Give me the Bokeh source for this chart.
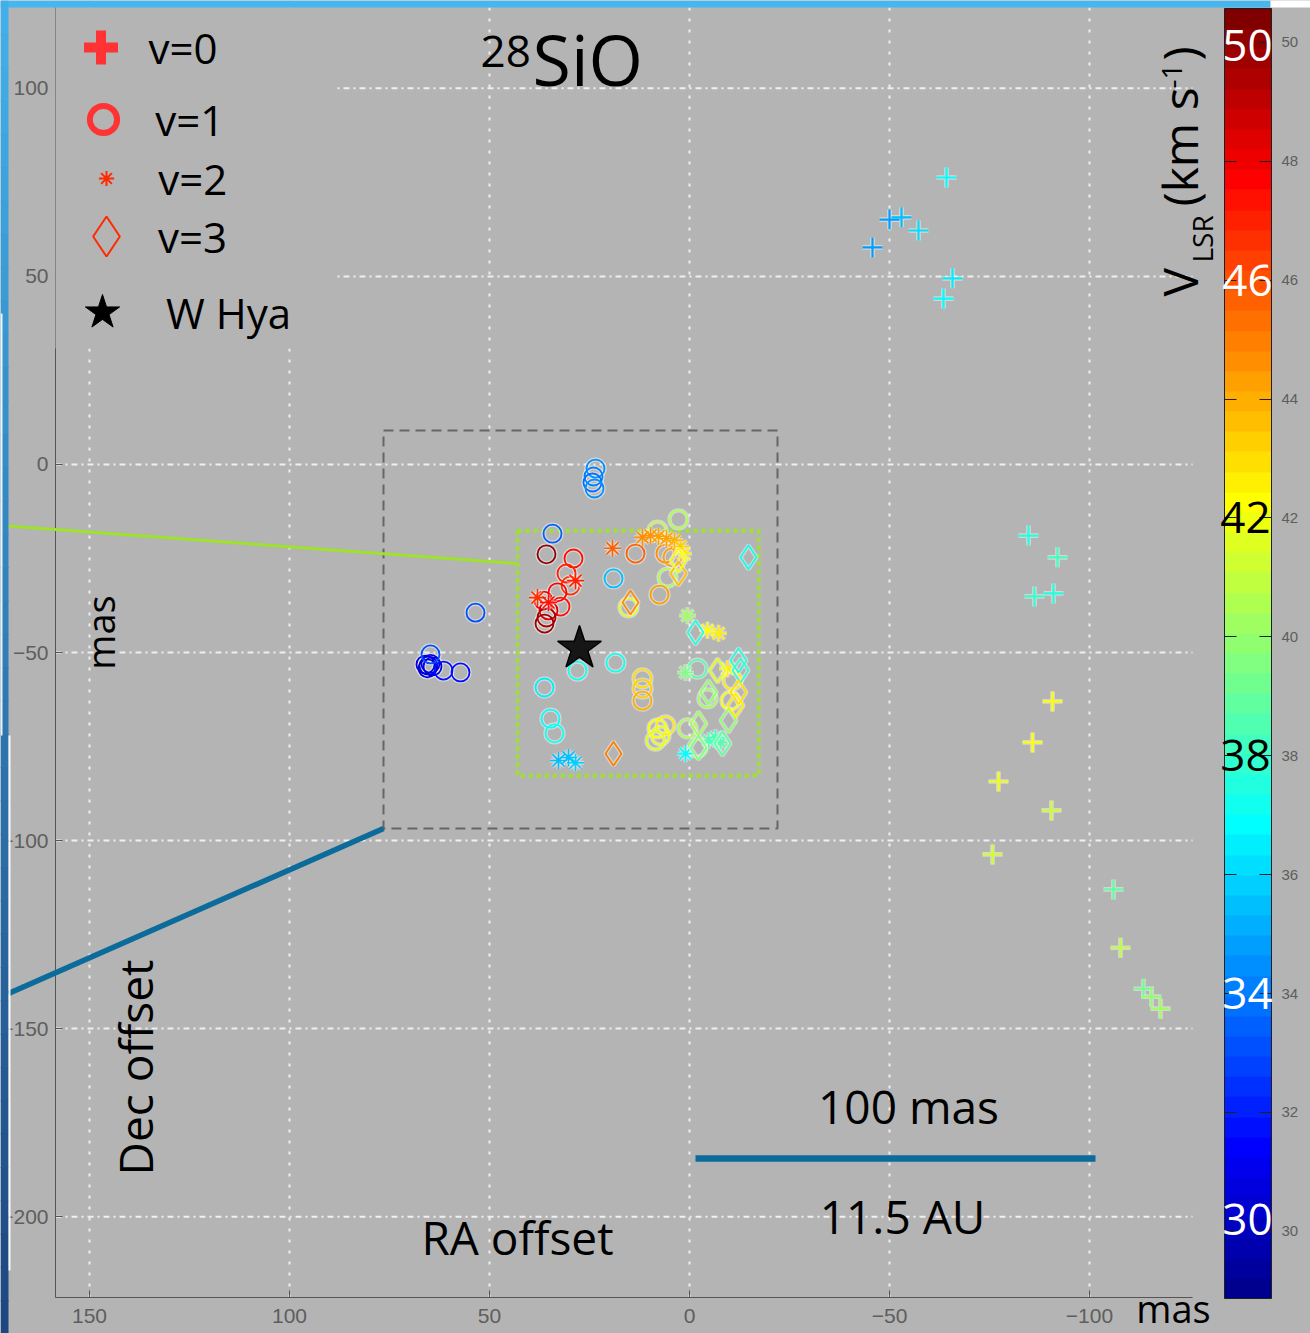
import numpy as np
from bokeh.plotting import figure
from bokeh.models import (Range1d, FixedTicker, LinearColorMapper, ColorBar, Label,
                          BoxAnnotation, Legend, LegendItem, Arrow, ColumnDataSource)
from bokeh.embed import file_html
from bokeh.resources import INLINE

# ---------------------------------------------------------------------------
# 28SiO maser spots around W Hya: RA offset (mas), Dec offset (mas), V_LSR (km/s)
# ---------------------------------------------------------------------------
v0_ra = [-64.25, -50.0, -53.0, -57.25, -45.75, -65.75, -63.5, -84.75, -92.0, -86.25,
         -91.0, -90.75, -85.75, -77.25, -90.5, -75.75, -106.0, -107.75, -113.5, -115.5, -117.75]
v0_dec = [76.3, 65.1, 65.7, 62.2, 57.7, 49.5, 44.1, -18.9, -24.7, -35.1,
          -34.3, -63.0, -73.9, -84.3, -92.0, -103.7, -113.0, -128.5, -139.4, -141.5, -144.7]
v0_vel = [37.0, 34.7, 35.5, 36.0, 34.7, 36.6, 37.0, 37.4, 38.3, 37.8,
          37.5, 42.4, 42.2, 41.8, 41.2, 41.4, 39.0, 40.8, 39.3, 39.8, 40.3]

v1_ra = [23.5, 24.0, 24.25, 23.75, 34.25, 35.75, 29.0, 30.75, 29.75, 33.0,
         32.25, 36.5, 35.25, 35.75, 36.25, 13.5, 19.0, 8.0, 2.75, 6.0,
         4.25, 5.5, 7.5, 15.25, 53.5, 65.25, 66.0, 64.25, 65.5, 64.75,
         64.75, 61.5, 57.25, 28.0, 18.5, 36.25, 34.75, 33.75, 11.75, 11.75,
         11.75, 8.0, 6.0, 7.25, 8.5, 0.5, -2.0, -10.75, -4.5, -10.25, -2.0]
v1_dec = [-1.1, -3.2, -4.8, -6.4, -18.4, -23.9, -25.0, -29.0, -32.2, -34.0,
          -37.8, -36.2, -38.8, -40.7, -42.3, -23.7, -30.3, -17.6, -14.6, -23.7,
          -24.7, -30.1, -34.6, -38.0, -39.4, -53.5, -53.2, -53.7, -54.2, -53.0,
          -50.5, -54.8, -55.3, -54.8, -52.7, -59.3, -67.6, -71.5, -56.9, -59.6,
          -62.8, -70.2, -69.4, -72.1, -73.4, -70.2, -54.3, -57.4, -62.2, -62.8, -75.3]
v1_vel = [34.6, 34.2, 33.9, 34.4, 33.4, 50.2, 47.4, 47.0, 46.8, 47.6,
          47.3, 47.9, 48.5, 49.3, 49.6, 45.6, 35.6, 41.0, 40.6, 44.8,
          44.2, 40.7, 44.2, 41.6, 33.2, 30.6, 30.9, 31.2, 30.4, 30.8,
          33.0, 31.8, 31.6, 37.2, 37.3, 36.4, 37.0, 37.3, 42.8, 43.3,
          43.8, 42.4, 42.6, 41.8, 41.5, 40.4, 38.6, 42.5, 40.3, 42.3, 39.8]

v2_ra = [38.0, 35.25, 28.5, 19.25, 11.75, 9.75, 7.75, 5.75, 3.75, 2.25,
         1.5, 0.5, -4.5, -7.25, 1.0, -9.5, -4.75, -6.5, -7.75, 1.0,
         32.75, 30.25, 28.5]
v2_dec = [-35.4, -36.7, -30.9, -22.3, -19.4, -18.9, -19.1, -19.7, -20.2, -21.8,
          -23.7, -40.2, -44.1, -44.9, -55.3, -54.3, -73.4, -72.6, -73.9, -76.9,
          -78.7, -77.9, -79.3]
v2_vel = [46.8, 47.5, 47.0, 45.8, 44.8, 44.6, 44.4, 44.2, 43.8, 43.2,
          42.6, 40.2, 42.3, 42.6, 39.6, 42.6, 38.4, 38.2, 38.5, 37.0,
          35.6, 35.4, 35.8]

v3_ra = [-14.75, 2.75, 2.75, 14.75, -1.5, 19.0, -7.0, -12.25, -12.75, -12.25,
         -4.75, -9.75, -2.25, -2.25, -8.25, -11.5]
v3_dec = [-24.7, -29.0, -25.5, -36.7, -44.7, -76.9, -54.8, -52.1, -54.8, -60.6,
          -60.6, -68.1, -68.9, -75.3, -74.2, -64.1]
v3_vel = [37.2, 43.5, 42.0, 44.8, 37.6, 45.0, 41.5, 37.5, 37.9, 42.8,
          40.0, 39.8, 40.1, 39.7, 39.0, 42.5]

star_ra = [27.5]
star_dec = [-48.9]

ra_ticks = [150, 100, 50, 0, -50, -100]
dec_ticks = [100, 50, 0, -50, -100, -150, -200]
vel_ticks = [30, 32, 34, 36, 38, 40, 42, 44, 46, 48, 50]
vel_big = [50, 46, 42, 38, 34, 30]
vel_min, vel_max = 28.87, 50.57

# zoom boxes (RA left, RA right, Dec bottom, Dec top) and the scale bar
outer_box = [76.5, -22.0, -96.8, 9.0]
inner_box = [43.0, -17.3, -82.7, -17.6]
scale_mas = 100
scale_au = 11.5

# ---------------------------------------------------------------------------
# page geometry: the plotting region spans RA 158.5..-125.75, Dec -221.5..121.5,
# drawn in the pixel box (55, 7)-(1192, 1297) of a 1310 x 1333 canvas
# ---------------------------------------------------------------------------
GRAY = "#b4b4b4"
W, H = 1310, 1333
RA_L, RA_R, DEC_B, DEC_T = 158.5, -125.75, -221.5, 121.5
BX0, BY0, BX1, BY1 = 55, 7, 1192, 1297
kx = (RA_R - RA_L) / (BX1 - BX0)
ky = (DEC_T - DEC_B) / (BY1 - BY0)
X_L, X_R = RA_L - BX0 * kx, RA_R + (W - BX1) * kx
Y_T, Y_B = DEC_T + BY0 * ky, DEC_B - (H - BY1) * ky


def px_x(px):
    """page pixel column -> RA offset"""
    return X_L + px * kx


def px_y(py):
    """page pixel row -> Dec offset"""
    return Y_T - py * ky


def jet(m=64):
    n = int(np.ceil(m / 4))
    u = np.concatenate([np.arange(1, n + 1) / n, np.ones(n - 1), np.arange(n, 0, -1) / n])
    g = int(np.ceil(n / 2)) - (1 if m % 4 == 1 else 0) + np.arange(1, len(u) + 1)
    rgb = np.zeros((m, 3))
    for ch, idx in ((0, g + n), (1, g), (2, g - n)):
        ok = (idx >= 1) & (idx <= m)
        rgb[idx[ok] - 1, ch] = u[ok]
    return ["#%02x%02x%02x" % tuple(int(round(c * 255)) for c in row) for row in rgb]


p = figure(width=W, height=H, x_range=Range1d(X_L, X_R), y_range=Range1d(Y_B, Y_T),
           min_border=0, min_border_left=0, min_border_right=0, min_border_top=0,
           min_border_bottom=0, output_backend="svg", toolbar_location=None,
           background_fill_color=GRAY, border_fill_color=GRAY, outline_line_color=None)

# axes pinned to the edges of the plotting region
p.xaxis.fixed_location = DEC_B
p.yaxis.fixed_location = RA_L
p.xaxis.bounds = (min(RA_L, RA_R), max(RA_L, RA_R))
p.yaxis.bounds = (DEC_B, DEC_T)
for ax in (p.xaxis[0], p.yaxis[0]):
    ax.axis_line_color = "#555555"
    ax.major_tick_line_color = "#555555"
    ax.major_tick_in = 7
    ax.major_tick_out = 0
    ax.minor_tick_line_color = None
    ax.major_label_text_font = "Liberation Sans"
    ax.major_label_text_font_size = "21px"
    ax.major_label_text_color = "#5e5e5e"
p.xaxis.ticker = FixedTicker(ticks=ra_ticks)
p.yaxis.ticker = FixedTicker(ticks=dec_ticks)
p.xaxis.major_label_standoff = 11
p.yaxis.major_label_standoff = 7
p.xgrid.visible = False
p.ygrid.visible = False

# dotted grid restricted to the plotting region
p.segment(x0=ra_ticks, x1=ra_ticks, y0=[DEC_B] * len(ra_ticks), y1=[DEC_T] * len(ra_ticks),
          line_color="#efefef", line_width=2, line_dash="3 8")
p.segment(x0=[RA_L] * len(dec_ticks), x1=[RA_R] * len(dec_ticks), y0=dec_ticks, y1=dec_ticks,
          line_color="#efefef", line_width=2, line_dash="6 4 2 4")

mapper = LinearColorMapper(palette=jet(64), low=vel_min, high=vel_max)
vcol = {"field": "vel", "transform": mapper}

# zoom boxes
p.quad(left=[outer_box[0]], right=[outer_box[1]], bottom=[outer_box[2]], top=[outer_box[3]],
       fill_color=None, line_color="#666666", line_width=2, line_dash="10 6")
p.quad(left=[inner_box[0]], right=[inner_box[1]], bottom=[inner_box[2]], top=[inner_box[3]],
       fill_color=None, line_color="#9ee22e", line_width=4, line_dash="4 4")


def spots(ra, dec, vel, marker, size, lw):
    src = ColumnDataSource(dict(x=ra, y=dec, vel=vel))
    p.scatter("x", "y", source=src, marker=marker, size=size, fill_color=None,
              line_color="#ffffff", line_alpha=0.45, line_width=lw + 2.5)
    p.scatter("x", "y", source=src, marker=marker, size=size, fill_color=None,
              line_width=lw, line_color=vcol)


spots(v0_ra, v0_dec, v0_vel, "cross", 20, 2.2)
spots(v1_ra, v1_dec, v1_vel, "circle", 18, 1.8)
spots(v2_ra, v2_dec, v2_vel, "asterisk", 17, 1.6)
spots(v3_ra, v3_dec, v3_vel, "diamond", 24, 1.8)
p.scatter(star_ra, star_dec, marker="star", size=46, fill_color="#161616",
          line_color="#000000", line_width=1.5)

# scale bar
sb_x0 = -1.5
sb_y = px_y(1158)
p.line([sb_x0, sb_x0 - scale_mas], [sb_y, sb_y], line_width=6.5, line_color="#0b6b9b")

# leader lines out of the zoom boxes
p.add_layout(Arrow(end=None, x_start=px_x(0), y_start=px_y(525), x_end=inner_box[0],
                   y_end=px_y(563), line_color="#9ee22e", line_width=3))
p.add_layout(Arrow(end=None, x_start=px_x(8), y_start=px_y(993), x_end=outer_box[0],
                   y_end=outer_box[2], line_color="#0b6b9b", line_width=5.5))

# blank area behind the legend
p.add_layout(BoxAnnotation(left=px_x(BX0), right=px_x(335), top=DEC_T, bottom=px_y(348),
                           fill_color=GRAY, fill_alpha=1, line_color=None))

# legend keys
nan = np.array([np.nan])
keys = [
    ("v=0", dict(marker="cross", line_color="#ff3333", line_width=10), 100, 47, 148, 85),
    ("v=1", dict(marker="circle", fill_color=None, line_color="#ff3333", line_width=6), 103, 119, 155, 67.5),
    ("v=2", dict(marker="asterisk", line_color="#ff2a00", line_width=2), 106, 178, 158, 37.5),
    ("v=3", dict(marker="diamond", fill_color=None, line_color="#ff2a00", line_width=2), 106, 236, 158, 100),
    ("W Hya", dict(marker="star", fill_color="#000000", line_color="#000000"), 102, 312, 166, 90),
]
for text, style, gx, gy, lx, gw in keys:
    r = p.scatter(nan, nan, **style)
    leg = Legend(items=[LegendItem(label=text, renderers=[r])],
                 location=(gx - gw / 2, H - (gy + 50)),
                 glyph_width=int(round(gw)), glyph_height=100,
                 label_standoff=int(round(lx - gx - gw / 2)),
                 padding=0, margin=0, spacing=0, border_line_alpha=0, background_fill_alpha=0,
                 label_text_font="Open Sans", label_text_font_size="42px",
                 label_text_color="#000000")
    p.add_layout(leg)


def label(text, px, py, size, angle=0.0, align="center", color="#000000", font="Open Sans"):
    p.add_layout(Label(x=px_x(px), y=px_y(py), text=text, angle=angle, text_align=align,
                       text_baseline="middle", text_font=font, text_font_size=size,
                       text_color=color))


# title
label("28", 480, 51, "44px", align="left")
label("SiO", 532, 58, "70px", align="left")

# axis texts
label("RA offset", 517, 1236, "46px")
label("Dec offset", 134, 1067, "46px", angle=np.pi / 2)
label("mas", 99, 632, "38px", angle=np.pi / 2)
label("mas", 1173, 1307, "38px")
label(f"{scale_mas} mas", 908, 1105, "46px")
label(f"{scale_au} AU", 902, 1215, "46px")

# colour bar title V_LSR (km s^-1)
up = np.pi / 2
label("V", 1179, 296, "48px", angle=up, align="left")
label("LSR", 1201, 262, "28px", angle=up, align="left")
label("(km s", 1179, 206, "48px", angle=up, align="left")
label("-1", 1171, 88, "28px", angle=up, align="left")
label(")", 1179, 60, "48px", angle=up, align="left")

# colour bar with ticks on both edges
CB_X, CB_TOP, CB_BOT = 1226, 8, 1298
common = dict(color_mapper=mapper, height=CB_BOT - CB_TOP, margin=0, padding=0,
              background_fill_alpha=0, border_line_alpha=0, major_tick_out=0)
p.add_layout(ColorBar(ticker=FixedTicker(ticks=vel_ticks), location=(CB_X - 2, H - CB_BOT),
                      width=47, bar_line_color="#202020", bar_line_width=1, major_tick_in=12,
                      major_tick_line_color="#202020", major_label_text_font="Liberation Sans",
                      major_label_text_font_size="15px", major_label_text_color="#5e5e5e",
                      label_standoff=10, **common))
p.add_layout(ColorBar(ticker=FixedTicker(ticks=vel_ticks), location=(CB_X - 2, H - CB_BOT),
                      width=12, scale_alpha=0, bar_line_alpha=0, major_tick_in=12,
                      major_tick_line_color="#202020", major_label_text_alpha=0, **common))


def cbar_py(v):
    """page row of a velocity on the colour bar"""
    return CB_TOP + (vel_max - v) / (vel_max - vel_min) * (CB_BOT - CB_TOP)


# large velocity numbers printed over the bar
nudge = {50: 3, 30: -12}
for v in vel_big:
    dark = v in (42, 38)
    label(str(v), 1245 if dark else 1247, cbar_py(v) + nudge.get(v, 0), "44px",
          color="#000000" if dark else "#ffffff")

# slide frame
p.add_layout(BoxAnnotation(left=px_x(0), right=px_x(1270), top=px_y(0), bottom=px_y(7),
                           fill_color="#45b6ee", fill_alpha=1, line_color=None, level="overlay"))
p.add_layout(BoxAnnotation(left=px_x(1270), right=px_x(W), top=px_y(0), bottom=px_y(7),
                           fill_color="#ffffff", fill_alpha=1, line_color=None, level="overlay"))
top_rgb, bot_rgb = np.array([66, 178, 236]), np.array([30, 70, 128])
n_bands = 40
for i in range(n_bands):
    c = top_rgb + (bot_rgb - top_rgb) * (i + 0.5) / n_bands
    y0, y1 = i * H / n_bands, (i + 1) * H / n_bands + 1
    p.add_layout(BoxAnnotation(left=px_x(0), right=px_x(8), top=px_y(y0), bottom=px_y(y1),
                               fill_color="#%02x%02x%02x" % tuple(int(v) for v in c),
                               fill_alpha=1, line_color=None, level="overlay"))
p.add_layout(BoxAnnotation(left=px_x(0), right=px_x(2), top=px_y(313), bottom=px_y(735),
                           fill_color="#ffffff", fill_alpha=0.9, line_color=None, level="overlay"))
p.add_layout(BoxAnnotation(left=px_x(8), right=px_x(10), top=px_y(735), bottom=px_y(1270),
                           fill_color="#ffffff", fill_alpha=0.9, line_color=None, level="overlay"))

open("out.html", "w").write(file_html(p, INLINE))
